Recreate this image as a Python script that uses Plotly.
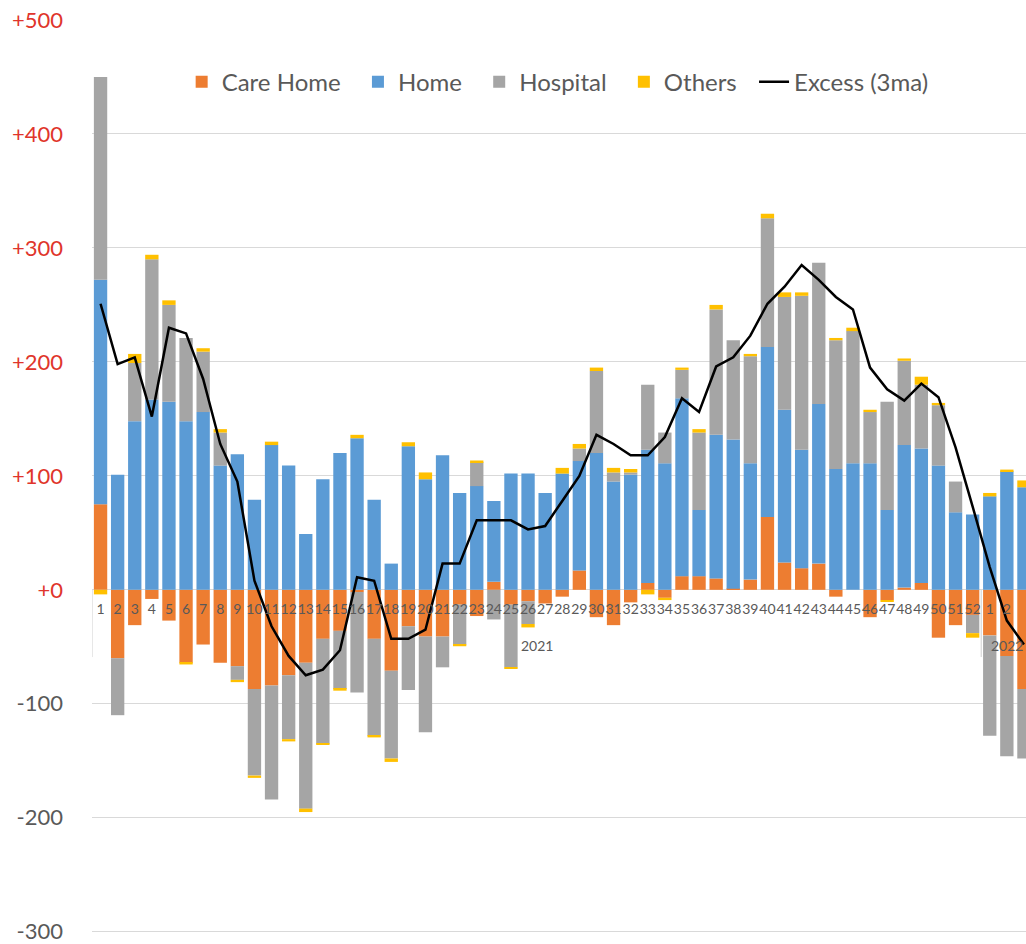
import plotly.graph_objects as go

week_labels = [str(i) for i in range(1, 53)] + ["1", "2", "3"]
year_labels = ["2021", "2022"]
year_sizes = [52, 3]

care_home = [75, -60, -31, -8, -27, -64, -48, -64, -67, -87,
             -84, -75, -64, -43, -36, -2, -43, -71, -32, -41,
             -41, -13, -23, 7, -13, -10, -12, -6, 17, -24,
             -31, -11, 6, -7, 12, 12, 10, 1, 9, 64,
             24, 19, 23, -6, 0, -24, -9, 2, 6, -42,
             -31, -22, -40, -58, -87]
home = [197, 101, 148, 167, 165, 148, 156, 109, 119, 79,
        127, 109, 49, 97, 120, 133, 79, 23, 126, 97,
        118, 85, 91, 71, 102, 102, 85, 102, 96, 120,
        95, 101, 117, 111, 156, 58, 126, 131, 102, 149,
        134, 104, 140, 106, 111, 111, 70, 125, 118, 109,
        68, 66, 82, 104, 90]
hospital = [178, -50, 51, 123, 85, 73, 53, 29, -12, -76,
            -100, -56, -128, -92, -51, -88, -85, -77, -56, -84,
            -27, -35, 21, -26, -55, -20, 0, 0, 11, 72,
            8, 2, 57, 27, 25, 68, 110, 87, 94, 113,
            99, 135, 124, 113, 116, 45, 95, 74, 56, 53,
            27, -16, -88, -88, -61]
others = [-4, 0, 8, 4, 4, -1.5, 3, 3, -2, -2,
          3, -2, -3, -1, -1.5, 3, -1.5, -3, 3.5, 6,
          0, -1.5, 1.5, 0, -1, -3, 0, 5, 4, 3,
          4, 3, -4, -2, 2, 3, 4, 0, 2, 4,
          4, 3, 0, 2, 3, 2, -1.5, 2, 7, 2,
          0, -4, 3, 1.5, 6]
excess_3ma = [251, 198, 204, 152, 230, 225, 185, 128, 95, 8,
              -32, -58, -75, -70, -53, 11, 8, -43, -43, -35,
              23, 23, 61, 61, 61, 53, 56, 78, 100, 136,
              128, 118, 118, 134, 168, 156, 196, 204, 223, 251,
              266, 285, 272, 257, 246, 195, 176, 166, 181, 169,
              125, 73, 20, -27, -48]

y_ticks = [500, 400, 300, 200, 100, 0, -100, -200, -300]
y_tick_text = ["+500", "+400", "+300", "+200", "+100", "+0", "-100", "-200", "-300"]

RED = "#E0352B"
GREY_TXT = "#595959"
FONT = "Lato"
PAD = "\u00a0" * 2

x = list(range(len(week_labels)))

fig = go.Figure()
series = [("Care Home", care_home, "#ED7D31"),
          ("Home", home, "#5B9BD5"),
          ("Hospital", hospital, "#A5A5A5"),
          ("Others", others, "#FFC000")]
for name, vals, col in series:
    fig.add_trace(go.Bar(x=x, y=vals, name=name + PAD,
                         marker=dict(color=col, line=dict(width=0))))

fig.add_trace(go.Scatter(x=x, y=excess_3ma, name="Excess (3ma)", mode="lines",
                         line=dict(color="black", width=2.5)))

ytext = [f'<span style="color:{RED}">{t}</span>' if v >= 0 else t
         for v, t in zip(y_ticks, y_tick_text)]

annotations = []
shapes = []
start = 0
for lab, n in zip(year_labels, year_sizes):
    center = start + (n - 1) / 2
    annotations.append(dict(x=center, y=0, xref="x", yref="y", text=lab, showarrow=False,
                            yshift=-56, font=dict(family=FONT, size=14, color=GREY_TXT)))
    shapes.append(dict(type="line", xref="x", yref="y", x0=start - 0.5, x1=start - 0.5,
                       y0=0, y1=-59, line=dict(color="#d0d0d0", width=1)))
    start += n

y_lo, y_hi = -302, 500

fig.update_layout(
    width=1026, height=944,
    margin=dict(l=92, r=0, t=20, b=10),
    paper_bgcolor="white", plot_bgcolor="white",
    barmode="relative", bargap=0.22,
    showlegend=True,
    legend=dict(orientation="h", x=0.096, xanchor="left", y=0.932, yanchor="middle",
                font=dict(family=FONT, size=24, color=GREY_TXT), bgcolor="rgba(0,0,0,0)",
                traceorder="normal"),
    xaxis=dict(range=[-0.5, 54.12], tickmode="array", tickvals=x, ticktext=week_labels,
               tickangle=0, anchor="free", position=(0 - y_lo) / (y_hi - y_lo),
               showgrid=False, showline=False,
               zeroline=False, ticks="", ticklabelstandoff=9,
               tickfont=dict(family=FONT, size=14, color=GREY_TXT)),
    yaxis=dict(range=[y_lo, y_hi], tickmode="array", tickvals=y_ticks, ticktext=ytext,
               showgrid=True, gridcolor="#d9d9d9", gridwidth=1,
               zeroline=True, zerolinecolor="#d9d9d9", zerolinewidth=1,
               showline=False, ticks="", ticklabelstandoff=28,
               ticklabeloverflow="allow",
               tickfont=dict(family=FONT, size=22, color=GREY_TXT)),
    annotations=annotations,
    shapes=shapes,
)

fig.write_html("out.html", config={"displayModeBar": False},
               post_script="document.body.style.margin='0';")
